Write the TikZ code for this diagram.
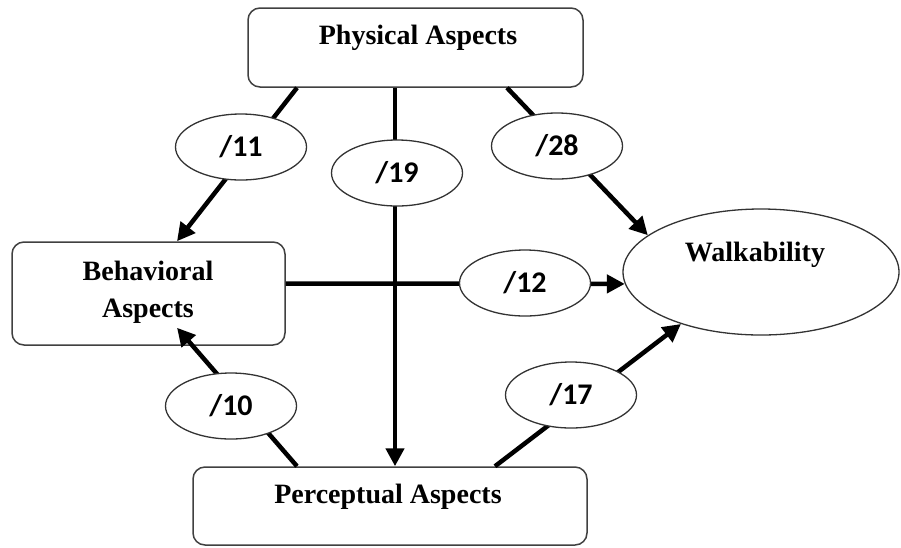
\documentclass[tikz,border=0pt]{standalone}
\usepackage{fontspec}
\setmainfont{Liberation Serif}
\newfontfamily\numfont{Carlito}
\usetikzlibrary{arrows.meta,shapes.geometric}
\begin{document}
\begin{tikzpicture}[x=1pt,y=-1pt,
  box/.style={draw=black!75, line width=1.5pt, rounded corners=12pt, fill=white, inner sep=0pt},
  title/.style={font=\fontsize{28}{37}\selectfont\bfseries, align=center, inner sep=0pt},
  weight/.style={ellipse, draw=black!80, line width=1.3pt, fill=white,
    minimum width=131pt, minimum height=66pt, inner sep=0pt,
    font=\numfont\fontsize{30}{32}\selectfont\bfseries},
  link/.style={line width=4.5pt},
  arr/.style={link, -{Triangle[length=18pt,width=18pt]}}]
\useasboundingbox (0,0) rectangle (901,547);

% aspect boxes and the outcome ellipse
\node[box, minimum width=335pt, minimum height=79pt] (phys) at (415.5,47.5) {};
\node[box, minimum width=273pt, minimum height=103pt] (beh) at (148.5,293.5) {};
\node[box, minimum width=394pt, minimum height=78pt] (perc) at (390,506) {};
\node[ellipse, draw=black!80, line width=1.3pt, fill=white, inner sep=0pt,
      minimum width=276pt, minimum height=126pt] (walk) at (761,272) {};

% connectors
\draw[arr] ([xshift=-118.5pt]phys.south) -- ([xshift=28.5pt]beh.north);
\draw[arr] ([xshift=-20.5pt]phys.south) -- ([xshift=5pt]perc.north);
\draw[arr] ([xshift=91.5pt]phys.south) -- (walk.162);
\draw[arr] ([yshift=10pt]beh.east) -- (walk.185);
\draw[arr] ([xshift=-93pt]perc.north) -- ([xshift=28.5pt,yshift=18pt]beh.south);
\draw[arr] ([xshift=105pt]perc.north) -- (walk.213);

% path weights
\node[weight] (w11) at (241,147) {/11};
\node[weight] (w19) at (397,173) {/19};
\node[weight] (w28) at (557,146) {/28};
\node[weight] (w12) at (525,283) {/12};
\node[weight] (w10) at (231,406) {/10};
\node[weight] (w17) at (571,395) {/17};

% labels
\node[title] (physT) at (418,38) {Physical Aspects};
\node[title] (behT) at (148,292) {Behavioral\\Aspects};
\node[title] (percT) at (388,497) {Perceptual Aspects};
\node[title] (walkT) at (755,255) {Walkability};
\end{tikzpicture}
\end{document}
